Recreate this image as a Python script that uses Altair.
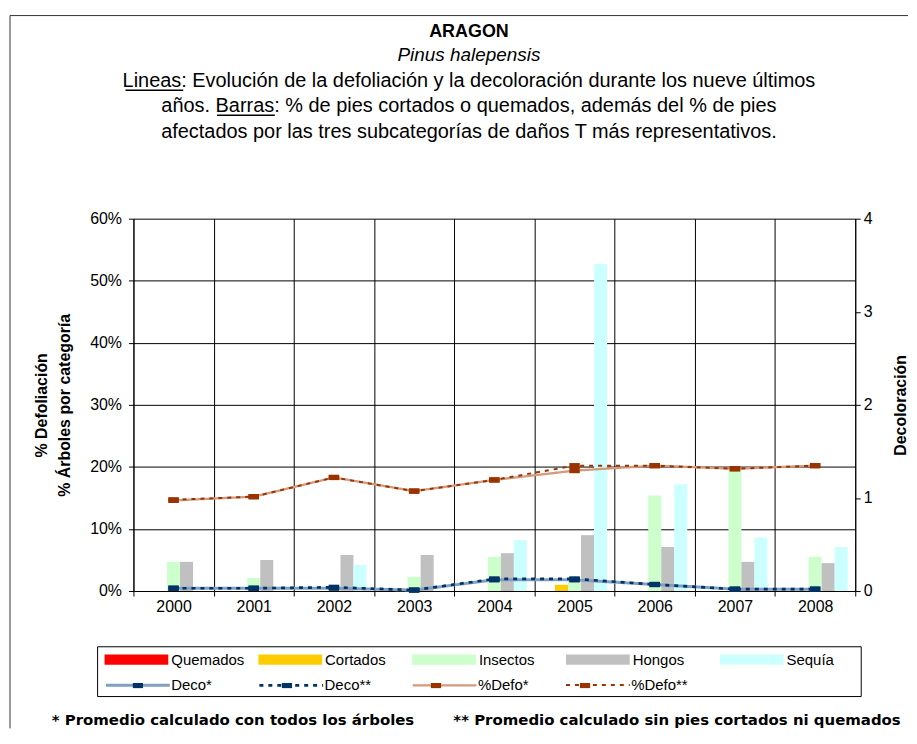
import altair as alt
import pandas as pd

FONT = "Liberation Sans"

years = ["2000", "2001", "2002", "2003", "2004", "2005", "2006", "2007", "2008"]

bar_cats = ["Quemados", "Cortados", "Insectos", "Hongos", "Sequía"]
bar_colors = ["#FF0000", "#FFCC00", "#CCFFCC", "#C0C0C0", "#CCFFFF"]
quemados = [0, 0, 0, 0, 0, 0, 0, 0, 0]
cortados = [0, 0, 0, 0, 0, 1.0, 0, 0, 0]
insectos = [4.7, 2.1, 0.8, 2.3, 5.5, 1.8, 15.4, 19.7, 5.5]
hongos = [4.7, 5.0, 5.8, 5.8, 6.1, 9.0, 7.1, 4.7, 4.5]
sequia = [0, 0, 4.2, 0, 8.2, 52.7, 17.2, 8.6, 7.1]

line_series = ["Deco*", "Deco**", "%Defo*", "%Defo**"]
line_colors = ["#819FC0", "#003366", "#D49A7E", "#993300"]
marker_colors = ["#003366", "#003366", "#993300", "#993300"]
line_dashes = [[1, 0], [4, 5], [1, 0], [4, 5]]
line_widths = [3, 2, 3, 2]
deco_all = [0.03, 0.03, 0.03, 0.01, 0.12, 0.12, 0.07, 0.02, 0.02]
deco_sin = [0.03, 0.03, 0.04, 0.01, 0.13, 0.13, 0.07, 0.02, 0.02]
defo_all = [14.6, 15.2, 18.3, 16.1, 17.9, 19.4, 20.2, 19.7, 20.2]
defo_sin = [14.7, 15.2, 18.3, 16.1, 17.9, 20.2, 20.2, 19.7, 20.2]

left_ticks = [0, 10, 20, 30, 40, 50, 60]
right_ticks = [0, 1, 2, 3, 4]

title_main = "ARAGON"
title_species = "Pinus halepensis"
desc_lines = [
    "Lineas: Evolución de la defoliación y la decoloración durante los nueve últimos",
    "años. Barras: % de pies cortados o quemados, además del % de pies",
    "afectados por las tres subcategorías de daños T más representativos.",
]
footnotes = [
    "* Promedio calculado con todos los árboles",
    "** Promedio calculado sin pies cortados ni quemados",
]
left_title = ["% Defoliación", "% Árboles por categoría"]
right_title = "Decoloración"

ZW = "\u200b"  # keeps the marker legend's domain distinct from the line legend's
marker_series = [s + ZW for s in line_series]

# ---------- tables ----------
bar_rows = []
for cat, vals in zip(bar_cats, [quemados, cortados, insectos, hongos, sequia]):
    for yr, v in zip(years, vals):
        bar_rows.append({"year": yr, "cat": cat, "val": v})
bar_df = pd.DataFrame(bar_rows)

defo_rows = []
for s, vals in zip(["%Defo*", "%Defo**"], [defo_all, defo_sin]):
    for yr, v in zip(years, vals):
        defo_rows.append({"year": yr, "serie": s, "mk": s + ZW, "val": v})
defo_df = pd.DataFrame(defo_rows)

deco_rows = []
for s, vals in zip(["Deco*", "Deco**"], [deco_all, deco_sin]):
    for yr, v in zip(years, vals):
        deco_rows.append({"year": yr, "serie": s, "mk": s + ZW, "deco": v})
deco_df = pd.DataFrame(deco_rows)

# ---------- encodings ----------
x_axis = alt.Axis(title=None, labelAngle=0, tickBand="extent", grid=True,
                  gridColor="#000000", gridOpacity=1, gridWidth=1,
                  domainColor="#000000", tickColor="#000000", tickSize=5,
                  labelFontSize=16, labelPadding=3, labelColor="#000000")
x_enc = alt.X("year:N", sort=years,
              scale=alt.Scale(paddingInner=0, paddingOuter=0), axis=x_axis)

y_left = alt.Y("val:Q", scale=alt.Scale(domain=[0, 60], nice=False),
               axis=alt.Axis(values=left_ticks, labelExpr="datum.value + '%'",
                             title=left_title, grid=True, gridColor="#000000",
                             gridOpacity=1, domainColor="#000000",
                             tickColor="#000000", tickSize=5, labelFontSize=16,
                             labelPadding=7, labelColor="#000000",
                             titleFontSize=16, titleFontWeight="bold",
                             titleColor="#000000", titlePadding=17,
                             titleLineHeight=23))

y_right = alt.Y("deco:Q", scale=alt.Scale(domain=[0, 4], nice=False),
                axis=alt.Axis(orient="right", values=right_ticks, format="d",
                              title=right_title, grid=False,
                              domainColor="#000000", tickColor="#000000",
                              tickSize=5, labelFontSize=16, labelPadding=3,
                              labelColor="#000000", titleFontSize=16,
                              titleFontWeight="bold", titleColor="#000000",
                              titleAngle=270, titleBaseline="top",
                              titlePadding=21))

SYM = 4096  # 64 px wide legend swatches
fill_legend = alt.Legend(title=None, orient="none", legendX=-29, legendY=411,
                         direction="horizontal", columns=5, gridAlign="all",
                         symbolType="M-1,-0.16H1V0.16H-1Z", symbolSize=SYM,
                         symbolStrokeWidth=0, symbolOpacity=1,
                         labelFontSize=15, labelColor="#000000", labelOffset=3,
                         columnPadding=13.5, padding=0)
line_legend = alt.Legend(title=None, orient="none", legendX=-29, legendY=435,
                         direction="horizontal", columns=4, gridAlign="all",
                         symbolType="stroke", symbolSize=SYM, labelFontSize=15,
                         labelOffset=0, labelColor="#000000",
                         columnPadding=26, padding=0)
marker_legend = alt.Legend(title=None, orient="none", legendX=-29, legendY=435,
                           direction="horizontal", columns=4, gridAlign="all",
                           symbolType="M-0.16,-0.08H0.16V0.08H-0.16Z",
                           symbolSize=SYM, symbolStrokeWidth=3,
                           symbolStrokeColor="transparent", symbolOpacity=1,
                           labelExpr="''", labelFontSize=15, labelOffset=0,
                           columnPadding=82.7, padding=0)

stroke_enc = alt.Stroke("serie:N", scale=alt.Scale(domain=line_series, range=line_colors),
                        legend=line_legend)
dash_enc = alt.StrokeDash("serie:N", scale=alt.Scale(domain=line_series, range=line_dashes),
                          legend=line_legend)
width_enc = alt.StrokeWidth("serie:N", scale=alt.Scale(domain=line_series, range=line_widths),
                            legend=line_legend)
marker_color = alt.Color("mk:N", scale=alt.Scale(domain=marker_series, range=marker_colors),
                         legend=marker_legend)

marker = "M-1,-0.5H1V0.5H-1Z"

bars = alt.Chart(bar_df).mark_bar(opacity=1).encode(
    x=x_enc,
    xOffset=alt.XOffset("cat:N", sort=bar_cats,
                        scale=alt.Scale(domain=bar_cats, paddingInner=0, paddingOuter=0.58)),
    y=y_left,
    fill=alt.Fill("cat:N", scale=alt.Scale(domain=bar_cats, range=bar_colors),
                  legend=fill_legend),
)

defo_lines = alt.Chart(defo_df).mark_line().encode(
    x=x_enc, y=y_left, stroke=stroke_enc, strokeDash=dash_enc, strokeWidth=width_enc,
)
defo_pts = alt.Chart(defo_df).mark_point(shape=marker, filled=True, size=110,
                                          opacity=1).encode(
    x=x_enc, y=y_left, color=marker_color,
)

deco_lines = alt.Chart(deco_df).mark_line().encode(
    x=x_enc, y=y_right, stroke=stroke_enc, strokeDash=dash_enc, strokeWidth=width_enc,
)
deco_pts = alt.Chart(deco_df).mark_point(shape=marker, filled=True, size=110,
                                          opacity=1).encode(
    x=x_enc, y=y_right, color=marker_color,
)

left_group = alt.layer(bars, defo_lines, defo_pts)
right_group = alt.layer(deco_lines, deco_pts)


def text_layer(txt, px, py, size, weight="normal", style="normal", align="center", font=FONT):
    return alt.Chart(pd.DataFrame({"t": [txt]})).mark_text(
        font=font, fontSize=size, fontWeight=weight, fontStyle=style,
        align=align, baseline="middle", color="#000000",
    ).encode(text="t:N", x=alt.value(px), y=alt.value(py))


cx = 337
texts = [
    text_layer(title_main, cx, -187, 18, weight="bold"),
    text_layer(title_species, cx, -164, 19, style="italic"),
    text_layer(desc_lines[0], cx, -138, 20),
    text_layer(desc_lines[1], cx, -113, 20),
    text_layer(desc_lines[2], cx, -87, 20),
    text_layer(footnotes[0], 100, 504, 15, weight="bold", font="DejaVu Sans"),
    text_layer(footnotes[1], 546, 504, 15, weight="bold", font="DejaVu Sans"),
]

one = pd.DataFrame({"k": [0]})
underline_lineas = alt.Chart(one).mark_rule(color="#000000", strokeWidth=1.5).encode(
    x=alt.value(-8), x2=alt.value(50), y=alt.value(-129))
underline_barras = alt.Chart(one).mark_rule(color="#000000", strokeWidth=1.5).encode(
    x=alt.value(84), x2=alt.value(142), y=alt.value(-104))
border_left = alt.Chart(one).mark_rule(color="#333333", strokeWidth=1).encode(
    x=alt.value(-124), y=alt.value(-204), y2=alt.value(512))
border_top = alt.Chart(one).mark_rule(color="#333333", strokeWidth=1).encode(
    x=alt.value(-124), x2=alt.value(778), y=alt.value(-204))
legend_frame = alt.Chart(one).mark_rect(fill="transparent", stroke="#000000",
                                         strokeWidth=1).encode(
    x=alt.value(-36), x2=alt.value(731), y=alt.value(430), y2=alt.value(480))

chart = alt.layer(
    left_group, right_group, legend_frame, border_left, border_top,
    underline_lineas, underline_barras, *texts
).resolve_scale(y="independent").properties(
    width=725, height=374,
    padding={"left": 1, "top": 5, "right": 0, "bottom": 0},
).configure_view(stroke="transparent").configure_axis(
    labelFont=FONT, titleFont=FONT
).configure_legend(labelFont=FONT).configure_text(font=FONT)

chart.save("out.html", embed_options={"renderer": "svg", "actions": False})
